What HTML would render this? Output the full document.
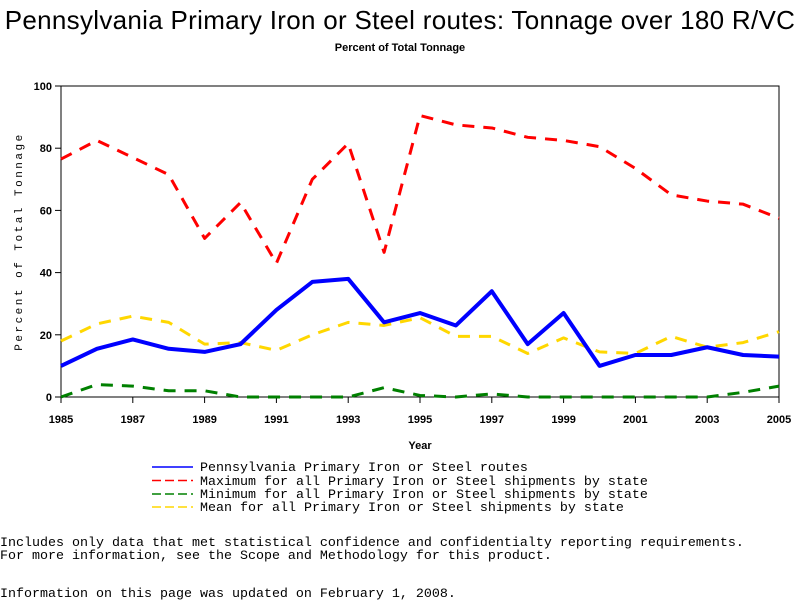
<!DOCTYPE html>
<html><head><meta charset="utf-8"><style>
body{margin:0;background:#fff;width:800px;height:600px;overflow:hidden;position:relative}
.m{font-family:"Liberation Mono",monospace;font-size:13.33px;position:absolute;white-space:pre;color:#000}
</style></head><body>
<div style="position:absolute;left:0;width:800px;top:5px;text-align:center;font-family:'Liberation Sans',sans-serif;font-size:26px;letter-spacing:0.3px;white-space:nowrap">Pennsylvania Primary Iron or Steel routes: Tonnage over 180 R/VC</div>
<div style="position:absolute;left:0;width:800px;top:42px;text-align:center;font-family:'Liberation Sans',sans-serif;font-size:11px;font-weight:bold">Percent of Total Tonnage</div>
<svg id="chart" width="800" height="460" style="position:absolute;left:0;top:0"></svg>
<div class="m" style="left:200px;top:461px">Pennsylvania Primary Iron or Steel routes</div>
<div class="m" style="left:200px;top:474.5px">Maximum for all Primary Iron or Steel shipments by state</div>
<div class="m" style="left:200px;top:488px">Minimum for all Primary Iron or Steel shipments by state</div>
<div class="m" style="left:200px;top:501px">Mean for all Primary Iron or Steel shipments by state</div>
<svg width="800" height="60" style="position:absolute;left:0;top:455px">
<line x1="152" x2="193" y1="12" y2="12" stroke="#0000ff" stroke-width="1.5"/>
<line x1="152" x2="193" y1="25.5" y2="25.5" stroke="#ff0000" stroke-width="1.5" stroke-dasharray="9,4"/>
<line x1="152" x2="193" y1="39" y2="39" stroke="#008000" stroke-width="1.5" stroke-dasharray="9,4"/>
<line x1="152" x2="193" y1="52" y2="52" stroke="#ffd700" stroke-width="1.5" stroke-dasharray="9,4"/>
</svg>
<div class="m" style="left:0;top:536px">Includes only data that met statistical confidence and confidentialty reporting requirements.</div>
<div class="m" style="left:0;top:549px">For more information, see the Scope and Methodology for this product.</div>
<div class="m" style="left:0;top:587px">Information on this page was updated on February 1, 2008.</div>
<script>
const years=[1985,1986,1987,1988,1989,1990,1991,1992,1993,1994,1995,1996,1997,1998,1999,2000,2001,2002,2003,2004,2005];
const penn=[10,15.5,18.5,15.5,14.5,17,28,37,38,24,27,23,34,17,27,10,13.5,13.5,16,13.5,13];
const maxv=[76.5,82.5,77,71.5,51,62.5,43,70,81.5,46.5,90.5,87.5,86.5,83.5,82.5,80.5,73.5,65,63,62,57.5];
const minv=[0,4,3.5,2,2,0,0,0,0,3,0.5,0,1,0,0,0,0,0,0,1.5,3.5];
const meanv=[18,23.5,26,24,17,17.5,15,20,24,23,25.5,19.5,19.5,14,19,14.5,14,19.5,16,17.5,21];
const xTicks=[1985,1987,1989,1991,1993,1995,1997,1999,2001,2003,2005];
const yTicks=[0,20,40,60,80,100];
const L=61,R=779,T=86,B=397;
const X=v=>L+(v-1985)/(2005-1985)*(R-L);
const Y=v=>B-v/100*(B-T);
const svg=document.getElementById('chart');
const NS='http://www.w3.org/2000/svg';
function mk(t,a){const e=document.createElementNS(NS,t);for(const k in a)e.setAttribute(k,a[k]);svg.appendChild(e);return e;}
const frame=mk('rect',{x:L,y:T,width:R-L,height:B-T,fill:'none',stroke:'#000','stroke-width':1});


yTicks.forEach(v=>{
 const t=mk('line',{x1:L-6,x2:L,y1:Y(v),y2:Y(v),stroke:'#000'});
 
 
 const s=mk('text',{x:L-9,y:Y(v)+4,'text-anchor':'end','font-family':'Liberation Sans,sans-serif','font-size':'11','font-weight':'bold'});
 s.textContent=v;
 
 
});
xTicks.forEach(v=>{
 const t=mk('line',{x1:X(v),x2:X(v),y1:B,y2:B+6,stroke:'#000'});
 
 
 const s=mk('text',{x:X(v),y:B+26,'text-anchor':'middle','font-family':'Liberation Sans,sans-serif','font-size':'11','font-weight':'bold'});
 s.textContent=v;
 
 
});
const xt=mk('text',{x:(L+R)/2,y:449,'text-anchor':'middle','font-family':'Liberation Sans,sans-serif','font-size':'11','font-weight':'bold'});
xt.textContent='Year';


const yt=mk('text',{x:0,y:0,transform:`translate(22,${(T+B)/2}) rotate(-90)`,'text-anchor':'middle','font-family':'Liberation Mono,monospace','font-size':'11','letter-spacing':'2.5'});
yt.textContent='Percent of Total Tonnage';


function series(arr,color,w,dash,name){
 const p=mk('polyline',{points:arr.map((v,i)=>X(years[i])+','+Y(v)).join(' '),fill:'none',stroke:color,'stroke-width':w,'stroke-dasharray':dash||'none','stroke-linejoin':'round'});
 
 
}
series(minv,'#008000',3,'12,9','series-minimum');
series(meanv,'#ffd700',3,'12,9','series-mean');
series(maxv,'#ff0000',3,'12,9','series-maximum');
series(penn,'#0000ff',4,null,'series-pennsylvania');
</script>
</body></html>
